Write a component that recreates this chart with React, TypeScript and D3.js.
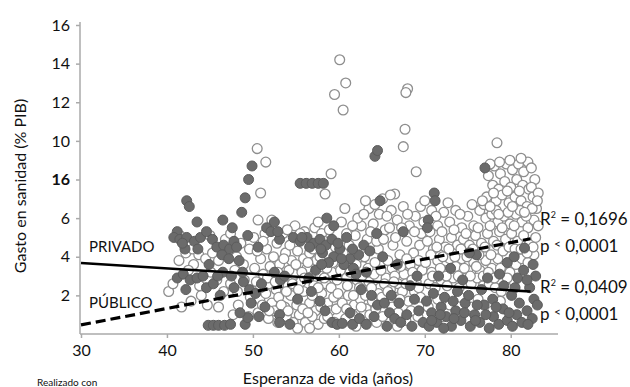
import React, { useEffect, useRef } from 'react';
import * as d3 from 'd3';

const width = 630;
const height = 387;
const font = 'Lato, "Open Sans", sans-serif';

type Pt = [number, number];

const xTicks = [30, 40, 50, 60, 70, 80];
const yTicks = [2, 4, 6, 8, 10, 12, 14, 16];
// the original chart prints "16" at the 8 tick
const yTickLabels = ['2', '4', '6', '16', '10', '12', '14', '16'];

// gasto privado (dark points)
const privadoAltos: Pt[] = [
  [42.3, 6.9], [42.6, 6.6], [43.5, 5.8], [41.2, 5.3], [49.9, 8.7], [49.5, 8.0], [49.1, 7.05],
  [48.7, 6.3], [46.5, 5.9], [47.6, 5.5], [51.6, 5.5], [52.5, 5.8], [55.5, 7.8], [56.2, 7.8],
  [56.9, 7.8], [57.6, 7.8], [58.2, 7.8], [64.2, 9.2], [64.5, 9.5], [64.8, 6.9], [71.1, 7.3],
  [71.2, 6.9], [77, 8.6], [70.4, 5.9], [70.3, 5.5],
];
const privado40: Pt[] = [
  [40.8, 5.0], [41.5, 4.9], [42.3, 5.0], [43.2, 4.8], [43.9, 5.0], [42.1, 4.4], [44.6, 5.3],
  [45.3, 4.9], [45.8, 4.5], [46.6, 4.6], [47.3, 4.4], [47.8, 4.8], [48.1, 4.5], [49.4, 5.1],
  [46.4, 4.1], [47.2, 3.9], [48.4, 3.8], [41.2, 2.9], [41.9, 3.1], [42.7, 2.8], [43.5, 2.9],
  [44.2, 3.0], [44.6, 2.4], [45.4, 2.6], [42.2, 2.3], [46.5, 3.2], [47.5, 3.0], [48.9, 2.7],
  [49.6, 2.3], [50.3, 2.1], [46.2, 2.0], [44.8, 0.45], [45.4, 0.45], [46.0, 0.45], [46.7, 0.45],
  [47.4, 0.5], [49.1, 0.5], [49.4, 0.85], [48.5, 1.1], [49.8, 1.6], [41.8, 4.7], [43.6, 4.4],
  [44.9, 3.6], [45.9, 3.0], [47.8, 2.4], [48.8, 3.2],
];
const privado50: Pt[] = [
  [50.6, 4.5], [52.1, 5.3], [53.1, 4.9], [54.7, 5.0], [55.5, 4.8], [56.3, 5.0], [57.1, 4.7],
  [57.8, 4.9], [58.5, 4.6], [59.2, 4.9], [58.1, 4.2], [59.4, 4.0], [58.8, 3.7], [60.1, 4.4],
  [60.9, 5.0], [61.3, 3.9], [60.6, 3.6], [58.6, 6.0], [59.4, 5.6], [52.9, 5.3], [55.7, 5.0],
  [52.5, 3.2], [53.2, 2.8], [53.7, 3.0], [51, 2.6], [56.5, 2.9], [57.3, 3.3], [56.8, 2.2],
  [55.2, 1.8], [57.8, 1.7], [53.1, 1.0], [53.1, 0.6], [59.2, 0.6], [59.8, 0.5], [60.4, 0.55],
  [58.4, 1.2], [54.3, 0.5], [50.7, 0.9], [51.4, 1.4], [56.6, 4.5], [57.9, 4.4], [59.9, 4.7],
  [60.3, 3.9], [58.0, 3.6],
];
const privado60: Pt[] = [
  [61.7, 3.4], [62.3, 4.1], [62.9, 4.6], [63.6, 4.3], [64.4, 5.2], [65.1, 4.0], [63.2, 3.2],
  [61.3, 1.1], [61.6, 0.5], [62.4, 0.8], [63.8, 2.0], [64.5, 1.5], [65.3, 1.6], [65.9, 1.1],
  [66.5, 0.8], [67.2, 0.6], [67.9, 1.0], [66.1, 2.0], [67.0, 1.6], [65.6, 0.4], [63.2, 0.5],
  [64.1, 0.9], [68.3, 2.5], [68.8, 1.8], [69.3, 1.2], [69.8, 0.6], [68.5, 0.4], [69.1, 3.0],
  [66.8, 3.6], [67.5, 5.3], [62.6, 2.3], [61.6, 4.4], [62.0, 3.1],
];
const privado70: Pt[] = [
  [70.2, 1.7], [70.8, 1.1], [71.4, 0.6], [71.9, 1.4], [72.5, 0.9], [73.1, 0.4], [73.6, 1.2],
  [74.2, 0.7], [74.7, 1.6], [75.3, 0.4], [75.8, 1.0], [76.4, 0.6], [76.9, 1.5], [77.5, 0.3],
  [78.0, 0.9], [78.6, 0.5], [79.1, 1.3], [79.6, 0.7], [80.2, 0.4], [80.7, 1.0], [81.3, 0.6],
  [81.9, 1.2], [82.5, 0.8], [71.0, 2.1], [72.3, 1.9], [73.8, 2.2], [75.1, 2.0], [76.6, 2.3],
  [77.9, 1.8], [79.2, 2.5], [80.1, 2.0], [80.8, 2.9], [81.5, 3.3], [82.2, 2.4], [82.7, 1.8],
  [79.6, 3.7], [80.4, 4.0], [81.6, 4.45], [76.0, 4.1], [75.2, 4.2], [78.7, 3.1], [77.3, 2.9],
  [74.4, 2.8], [72.2, 0.3], [70.5, 0.4], [83.1, 1.5], [82.9, 3.0], [73.0, 3.4], [71.6, 3.0],
  [70.8, 0.7], [71.8, 1.0], [73.4, 0.8], [74.6, 1.1], [75.9, 0.7], [77.1, 1.0], [78.3, 1.4],
  [79.8, 1.1], [81.0, 1.6], [82.0, 0.5], [80.5, 2.4], [81.9, 2.8], [82.6, 3.6], [76.1, 1.5],
  [73.3, 1.7],
];

// gasto publico (white points)
const publicoAltos: Pt[] = [
  [60.1, 14.2], [60.8, 13.0], [59.5, 12.4], [60.5, 11.6], [68.0, 12.7], [67.8, 12.5],
  [67.7, 10.6], [67.5, 9.7], [69, 8.4], [50.5, 9.6], [51.5, 8.9], [59.1, 8.3], [58.4, 7.25],
  [50.9, 7.3], [66.5, 7.25], [78.4, 9.9], [54.9, 5.6], [50.6, 5.9], [52.2, 5.9],
];
const publico40: Pt[] = [
  [41.5, 5.1], [45, 5.1], [40.2, 2.2], [40.7, 2.6], [41.4, 3.8], [42.2, 4.2], [43, 4.4],
  [43.7, 4.1], [44.5, 3.9], [45.3, 4.2], [46, 3.8], [46.8, 4.9], [47.4, 5.2], [48.1, 4.0],
  [48.9, 3.6], [49.6, 4.4], [45.1, 3.2], [45.8, 2.8], [46.6, 2.2], [47.4, 2.6], [48.2, 2.2],
  [49, 2.8], [49.7, 1.9], [47.7, 1.0], [48.3, 1.5], [43.1, 3.6], [44, 2.0], [42.8, 1.7],
  [44.7, 1.5], [46, 1.4], [49.5, 0.9], [41.7, 1.4], [42.5, 3.3], [43.8, 2.5], [47.9, 3.3],
  [48.6, 4.7],
];
const publico50: Pt[] = [
  [50.2, 3.4], [50.9, 3.9], [51.6, 4.4], [52.4, 4.0], [53.1, 3.6], [53.8, 4.2], [54.5, 3.8],
  [55.2, 4.3], [55.9, 3.9], [56.6, 4.2], [57.4, 3.8], [50.4, 2.7], [51.2, 3.1], [51.9, 2.6],
  [52.7, 2.3], [53.4, 2.9], [54.1, 2.5], [54.8, 3.1], [55.6, 2.7], [56.3, 3.4], [57.1, 2.5],
  [57.8, 3.0], [58.5, 2.6], [59.2, 3.2], [59.8, 2.8], [50.8, 1.8], [51.5, 2.1], [52.2, 1.6],
  [53.0, 1.9], [53.7, 1.4], [54.4, 2.0], [55.1, 1.5], [55.9, 2.2], [56.6, 1.6], [57.3, 1.2],
  [58.0, 2.1], [58.7, 1.6], [59.4, 1.9], [50.6, 1.1], [51.8, 0.8], [52.5, 1.2], [53.9, 0.9],
  [54.7, 0.6], [55.4, 1.0], [56.1, 0.6], [56.9, 0.9], [57.6, 0.5], [58.3, 0.8], [59.0, 1.2],
  [59.7, 1.3], [51.4, 5.2], [52.8, 4.7], [53.5, 5.2], [54.3, 4.6], [56.0, 5.3], [57.2, 5.5],
  [58.0, 5.2], [58.9, 5.4], [59.6, 4.5], [50.1, 5.0], [55.2, 0.3], [56.6, 0.3],
  [50.5, 4.3], [51.2, 4.8], [52.0, 3.5], [52.9, 3.2], [53.6, 3.9], [54.2, 3.3], [55.0, 3.6],
  [55.7, 3.2], [56.4, 3.7], [57.0, 4.4], [57.8, 4.0], [58.6, 3.4], [59.3, 3.7], [50.9, 2.4],
  [51.7, 2.9], [52.6, 2.7], [53.9, 2.2], [54.6, 2.6], [55.3, 2.3], [56.0, 2.9], [56.9, 2.0],
  [57.6, 2.4], [58.3, 2.9], [59.1, 2.4], [59.9, 2.1], [51.1, 1.5], [51.9, 1.2], [53.3, 1.5],
  [54.1, 1.2], [55.8, 1.3], [56.4, 1.1], [57.9, 1.4], [58.7, 0.9], [59.5, 0.6], [52.9, 0.6],
  [54.0, 5.4], [55.5, 5.2], [57.6, 5.8], [58.3, 4.8],
];
const publico60: Pt[] = [
  [60.2, 3.3], [60.9, 2.9], [61.5, 2.4], [62.1, 2.8], [62.8, 3.5], [63.5, 2.7], [64.1, 3.1],
  [64.8, 2.4], [65.5, 2.9], [66.2, 3.4], [66.9, 2.6], [67.6, 3.1], [68.3, 3.6], [69.0, 2.7],
  [69.7, 3.3], [60.4, 1.6], [61.1, 2.0], [61.8, 1.5], [62.5, 1.8], [63.2, 1.3], [63.9, 1.7],
  [64.6, 2.1], [65.3, 2.6], [66.0, 2.3], [66.7, 1.9], [67.4, 2.2], [68.1, 1.7], [68.8, 2.2],
  [69.5, 1.9], [60.8, 0.8], [62.0, 0.4], [62.9, 1.0], [64.4, 0.6], [65.1, 0.9], [66.8, 0.4],
  [60.5, 4.2], [61.2, 4.6], [61.9, 5.1], [62.6, 5.6], [63.3, 4.9], [64.0, 5.7], [64.7, 6.2],
  [65.4, 5.4], [66.1, 6.4], [66.8, 5.9], [67.5, 6.6], [68.2, 5.6], [68.9, 6.1], [69.6, 5.2],
  [63.5, 6.5], [65.6, 6.1], [60.3, 5.8], [61.4, 3.8], [63.0, 4.0], [64.6, 4.4], [66.3, 4.6],
  [67.1, 4.1], [67.9, 4.8], [68.7, 4.2], [69.4, 4.6], [62.2, 6.0], [65.1, 7.0], [66.0, 7.2],
  [60.7, 6.5], [69.2, 0.9], [67.8, 0.7],
  [60.6, 3.6], [61.3, 3.2], [62.0, 3.6], [62.7, 3.0], [63.4, 3.4], [64.2, 3.7], [64.9, 3.3],
  [65.7, 3.8], [66.5, 3.0], [67.2, 3.5], [67.9, 3.9], [68.6, 3.2], [69.3, 3.8], [61.0, 2.5],
  [61.7, 2.0], [62.4, 2.4], [63.1, 2.0], [63.8, 2.4], [65.0, 1.9], [65.7, 2.2], [66.4, 2.7],
  [67.1, 1.8], [67.8, 2.6], [68.5, 2.8], [69.3, 2.4], [60.9, 1.3], [61.6, 1.0], [62.6, 1.4],
  [63.6, 1.0], [64.3, 1.3], [66.2, 1.4], [66.9, 1.1], [68.4, 1.2], [60.9, 5.2], [61.6, 5.6],
  [62.9, 6.2], [63.7, 5.3], [64.4, 4.8], [65.2, 4.9], [65.9, 5.5], [66.6, 5.0], [67.3, 5.5],
  [68.0, 6.2], [68.8, 5.3], [69.5, 6.6], [69.9, 5.8], [63.1, 6.9], [64.2, 6.7],
];
const publico70: Pt[] = [
  [77.4, 8.2], [78.1, 8.7], [78.8, 8.3], [79.5, 8.8], [80.2, 8.5], [80.9, 8.8], [81.5, 8.4],
  [82.0, 8.9], [77.9, 7.7], [78.6, 7.5], [79.3, 7.9], [80.0, 7.6], [80.7, 8.0], [81.4, 7.7],
  [82.1, 7.5], [82.8, 8.0], [77.2, 7.1], [78.3, 6.9], [79.0, 7.2], [79.8, 6.8], [80.5, 7.1],
  [81.2, 6.9], [81.9, 6.6], [82.6, 7.1], [83.0, 6.5], [70.0, 6.9], [70.8, 6.4], [71.5, 5.6],
  [72.2, 6.3], [72.9, 5.8], [73.6, 6.4], [74.3, 5.5], [75.0, 6.1], [75.7, 5.6], [76.4, 6.4],
  [77.1, 6.0], [77.8, 6.2], [78.5, 5.8], [79.2, 6.1], [79.9, 5.7], [80.6, 6.2], [81.3, 5.8],
  [82.0, 5.5], [82.7, 5.9], [70.3, 4.8], [71.0, 4.4], [71.7, 4.9], [72.4, 4.5], [73.1, 5.0],
  [73.8, 4.6], [74.5, 4.9], [75.2, 4.6], [75.9, 5.1], [76.6, 4.7], [77.3, 5.2], [78.0, 4.8],
  [78.7, 5.3], [79.4, 4.9], [80.1, 5.2], [80.8, 4.8], [81.5, 5.1], [82.2, 4.7], [82.9, 5.0],
  [70.1, 3.7], [70.8, 3.2], [71.5, 3.8], [72.2, 3.3], [72.9, 3.9], [73.6, 3.5], [74.3, 3.9],
  [75.0, 3.3], [75.7, 3.7], [76.4, 3.3], [77.1, 3.8], [77.8, 3.4], [78.5, 3.9], [79.2, 3.5],
  [79.9, 3.2], [80.6, 3.6], [81.3, 3.9], [82.0, 3.7], [82.7, 4.1], [70.5, 2.6], [71.2, 2.4],
  [71.9, 2.8], [72.6, 2.5], [73.3, 2.9], [74.0, 2.4], [74.7, 2.9], [75.4, 2.6], [76.1, 2.9],
  [76.8, 2.5], [77.5, 2.6], [78.2, 2.4], [78.9, 2.2], [80.4, 2.7], [70.4, 1.4], [71.5, 1.8],
  [72.9, 1.5], [74.1, 1.9], [75.5, 1.4], [76.2, 1.8], [77.9, 1.2], [78.8, 1.7], [74.8, 0.8],
  [72.0, 0.9],
  [70.6, 5.3], [71.3, 6.1], [72.0, 5.3], [72.7, 6.8], [73.4, 5.4], [74.1, 6.2], [74.8, 5.2],
  [75.5, 6.7], [76.2, 5.5], [76.9, 6.7], [77.6, 5.6], [78.3, 6.4], [79.0, 5.5], [79.7, 6.3],
  [80.4, 5.6], [81.1, 6.4], [81.8, 6.1], [82.5, 6.5], [83.2, 5.6], [70.7, 4.1], [71.4, 4.5],
  [72.1, 4.0], [72.8, 4.4], [73.5, 4.0], [74.2, 4.4], [74.9, 4.0], [75.6, 4.4], [76.3, 4.1],
  [77.0, 4.5], [77.7, 4.1], [78.4, 4.6], [79.1, 4.3], [79.8, 4.5], [80.5, 4.4], [81.2, 4.4],
  [81.9, 4.2], [82.6, 4.5], [70.9, 3.0], [71.8, 3.4], [72.5, 3.0], [73.9, 3.0], [74.6, 3.4],
  [75.3, 3.0], [76.0, 3.5], [76.8, 3.0], [77.4, 3.2], [78.1, 2.9], [78.8, 3.4], [79.6, 2.9],
  [77.6, 8.8], [78.7, 8.9], [79.9, 9.0], [81.2, 9.1], [82.4, 8.6], [78.0, 7.3], [79.6, 7.4],
  [81.0, 7.4], [82.4, 7.6], [83.2, 7.3], [76.7, 6.9], [77.6, 6.6], [78.6, 6.2], [80.2, 6.6],
  [81.6, 6.3], [83.1, 6.9],
];

// regression lines (start / end)
const privadoFit: Pt[] = [[30, 3.68], [82.3, 2.2]];
const publicoFit: Pt[] = [[30, 0.47], [82.3, 4.93]];

const statsLabels = [
  { r2: '0,1696', p: '0,0001' },
  { r2: '0,0409', p: '0,0001' },
];

const Chart: React.FC = () => {
  const ref = useRef<SVGSVGElement>(null);

  useEffect(() => {
    if (!ref.current) return;
    const svg = d3.select(ref.current);
    svg.selectAll('*').remove();

    const x = d3.scaleLinear().domain([30, 85.5]).range([81, 558]);
    const y = d3.scaleLinear().domain([0, 16]).range([334, 25]);

    const privado = [...privadoAltos, ...privado40, ...privado50, ...privado60, ...privado70];
    const publico = [...publicoAltos, ...publico40, ...publico50, ...publico60, ...publico70];

    // axes
    const yAxis = svg
      .append('g')
      .attr('transform', 'translate(80,0)')
      .call(
        d3
          .axisLeft(y)
          .tickValues(yTicks)
          .tickSize(4)
          .tickSizeOuter(0)
          .tickPadding(6)
          .tickFormat((d, i) => yTickLabels[i])
      );
    yAxis.select('.domain').attr('d', `M0,${y(0)}V${y(16) - 3}`);

    const xAxis = svg
      .append('g')
      .attr('transform', `translate(0,${y(0)})`)
      .call(d3.axisBottom(x).tickValues(xTicks).tickSize(4).tickSizeOuter(0).tickPadding(7));
    xAxis.select('.domain').attr('d', `M80,0H${x(85.5)}`);

    svg.selectAll('.domain, .tick line').attr('stroke', '#aaa').attr('stroke-width', 1.5);
    svg
      .selectAll('.tick text')
      .attr('fill', '#111')
      .style('font-family', font)
      .style('font-size', '16px');
    yAxis
      .selectAll<SVGTextElement, number>('.tick text')
      .filter((d) => d === 8)
      .style('font-weight', 'bold');

    // points
    svg
      .append('g')
      .selectAll('circle')
      .data(publico)
      .enter()
      .append('circle')
      .attr('cx', (d) => x(d[0]))
      .attr('cy', (d) => y(d[1]))
      .attr('r', 4.9)
      .attr('fill', '#fff')
      .attr('stroke', '#8e8e8e')
      .attr('stroke-width', 1.3);

    svg
      .append('g')
      .selectAll('circle')
      .data(privado)
      .enter()
      .append('circle')
      .attr('cx', (d) => x(d[0]))
      .attr('cy', (d) => y(d[1]))
      .attr('r', 5)
      .attr('fill', '#6b6b6b')
      .attr('stroke', '#5c5c5c')
      .attr('stroke-width', 1);

    // fit lines
    const line = d3
      .line<Pt>()
      .x((d) => x(d[0]))
      .y((d) => y(d[1]));

    svg
      .append('path')
      .attr('d', line(privadoFit)!)
      .attr('fill', 'none')
      .attr('stroke', '#000')
      .attr('stroke-width', 2.6);

    svg
      .append('path')
      .attr('d', line(publicoFit)!)
      .attr('fill', 'none')
      .attr('stroke', '#000')
      .attr('stroke-width', 3.2)
      .attr('stroke-dasharray', '10 5');

    // labels
    const label = (tx: number, ty: number, s: string, size = 15) =>
      svg
        .append('text')
        .attr('x', tx)
        .attr('y', ty)
        .attr('fill', '#111')
        .style('font-family', font)
        .style('font-size', `${size}px`)
        .text(s);

    label(89, 252, 'PRIVADO');
    label(89, 308, 'PÚBLICO');

    const statsY = [225, 293];
    statsLabels.forEach((s, i) => {
      const by = statsY[i];
      const r = svg
        .append('text')
        .attr('x', 540)
        .attr('y', by)
        .attr('fill', '#111')
        .style('font-family', font)
        .style('font-size', '17px');
      r.append('tspan').text('R');
      r.append('tspan').attr('dy', -7).style('font-size', '9px').text('2');
      r.append('tspan').attr('dy', 7).text(` = ${s.r2}`);

      const p = svg
        .append('text')
        .attr('x', 540)
        .attr('y', by + 27)
        .attr('fill', '#111')
        .style('font-family', font)
        .style('font-size', '17px');
      p.append('tspan').text('p ');
      p.append('tspan').attr('dy', -4).style('font-size', '12px').text('<');
      p.append('tspan').attr('dy', 4).text(` ${s.p}`);
    });

    svg
      .append('text')
      .attr('transform', 'translate(26,186) rotate(-90)')
      .attr('text-anchor', 'middle')
      .attr('fill', '#111')
      .style('font-family', font)
      .style('font-size', '16px')
      .text('Gasto en sanidad (% PIB)');

    svg
      .append('text')
      .attr('x', 328)
      .attr('y', 384)
      .attr('text-anchor', 'middle')
      .attr('fill', '#111')
      .style('font-family', font)
      .style('font-size', '16px')
      .text('Esperanza de vida (años)');

    label(37, 386, 'Realizado con', 10);
  }, []);

  return <svg ref={ref} width={width} height={height} style={{ display: 'block' }} />;
};

export default function App() {
  return (
    <div style={{ position: 'absolute', left: 0, top: 0, width, height, background: '#fff' }}>
      <Chart />
    </div>
  );
}
